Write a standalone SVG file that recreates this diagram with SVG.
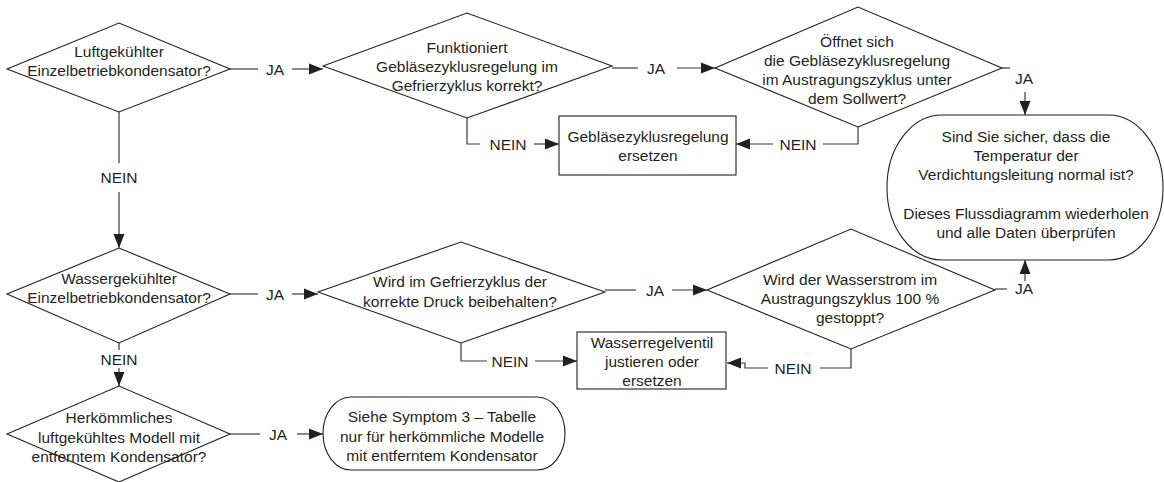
<svg xmlns="http://www.w3.org/2000/svg" width="1164" height="482" viewBox="0 0 1164 482">
<defs>
<style>
.shape{fill:#fff;stroke:#231f20;stroke-width:1.1}
.conn{fill:none;stroke:#3a3a3a;stroke-width:1.2}
text{font-family:"Liberation Sans",Arial,Helvetica,sans-serif;font-size:15.5px;fill:#231f20;text-anchor:middle}
</style>
<marker id="ah" markerUnits="userSpaceOnUse" markerWidth="15" markerHeight="12" refX="14" refY="6" orient="auto">
<path d="M0,0.5 L14,6 L0,11.5 z" fill="#231f20"/>
</marker>
</defs>
<rect width="1164" height="482" fill="#fff"/>

<g id="connectors">
<line class="conn" x1="230" y1="69" x2="258" y2="69"/>
<line class="conn" x1="292" y1="69" x2="323" y2="69" marker-end="url(#ah)"/>
<line class="conn" x1="612" y1="68" x2="638" y2="68"/>
<line class="conn" x1="677" y1="68" x2="715" y2="68" marker-end="url(#ah)"/>
<line class="conn" x1="1002" y1="68" x2="1010" y2="68"/>
<line class="conn" x1="1025" y1="92" x2="1025" y2="115" marker-end="url(#ah)"/>
<polyline class="conn" points="467,118 467,144 480,144"/>
<line class="conn" x1="534" y1="144" x2="559" y2="144" marker-end="url(#ah)"/>
<polyline class="conn" points="858,127 858,144 823,144"/>
<line class="conn" x1="773" y1="144" x2="736" y2="144" marker-end="url(#ah)"/>
<line class="conn" x1="119" y1="112" x2="119" y2="163"/>
<line class="conn" x1="119" y1="192" x2="119" y2="248" marker-end="url(#ah)"/>
<line class="conn" x1="230" y1="294" x2="258" y2="294"/>
<line class="conn" x1="292" y1="294" x2="318" y2="294" marker-end="url(#ah)"/>
<line class="conn" x1="605" y1="290" x2="636" y2="290"/>
<line class="conn" x1="672" y1="290" x2="707" y2="290" marker-end="url(#ah)"/>
<line class="conn" x1="995" y1="289" x2="1007" y2="289"/>
<line class="conn" x1="1025" y1="281" x2="1025" y2="260" marker-end="url(#ah)"/>
<polyline class="conn" points="461,343 461,361 487,361"/>
<line class="conn" x1="535" y1="361" x2="577" y2="361" marker-end="url(#ah)"/>
<polyline class="conn" points="851,349 851,368 820,368"/>
<polyline class="conn" points="768,368 745,368 745,363 727,363" marker-end="url(#ah)"/>
<line class="conn" x1="119" y1="343" x2="119" y2="350"/>
<line class="conn" x1="119" y1="368" x2="119" y2="386" marker-end="url(#ah)"/>
<line class="conn" x1="230" y1="434" x2="260" y2="434"/>
<line class="conn" x1="297" y1="434" x2="323" y2="434" marker-end="url(#ah)"/>
<text x="275" y="74.5">JA</text>
<text x="656" y="73.5">JA</text>
<text x="1024" y="83.5">JA</text>
<text x="508" y="149.5">NEIN</text>
<text x="798" y="149.5">NEIN</text>
<text x="119" y="182.5">NEIN</text>
<text x="275" y="299.5">JA</text>
<text x="655" y="295.5">JA</text>
<text x="1024" y="293.5">JA</text>
<text x="510" y="366.5">NEIN</text>
<text x="793" y="373.5">NEIN</text>
<text x="119" y="364.5">NEIN</text>
<text x="278" y="439.5">JA</text>
</g>

<g id="d1">
<polygon class="shape" points="7,69 119,23 230,69 119,112"/>
<text x="119" y="57">Luftgekühlter</text>
<text x="119" y="76">Einzelbetriebkondensator?</text>
</g>
<g id="d2">
<polygon class="shape" points="323,66 467,13 612,66 467,118"/>
<text x="467" y="53">Funktioniert</text>
<text x="467" y="72">Gebläsezyklusregelung im</text>
<text x="467" y="91">Gefrierzyklus korrekt?</text>
</g>
<g id="d3">
<polygon class="shape" points="715,68 858,7 1002,68 858,127"/>
<text x="857" y="47">Öffnet sich</text>
<text x="857" y="66">die Gebläsezyklusregelung</text>
<text x="857" y="85">im Austragungszyklus unter</text>
<text x="857" y="104">dem Sollwert?</text>
</g>
<g id="box1">
<rect class="shape" x="559" y="116" width="177" height="59"/>
<text x="648" y="142">Gebläsezyklusregelung</text>
<text x="648" y="161">ersetzen</text>
</g>
<g id="term1">
<rect class="shape" x="887" y="115" width="276" height="145" rx="55" ry="72"/>
<text x="1026" y="142">Sind Sie sicher, dass die</text>
<text x="1026" y="161">Temperatur der</text>
<text x="1026" y="180">Verdichtungsleitung normal ist?</text>
<text x="1026" y="219">Dieses Flussdiagramm wiederholen</text>
<text x="1026" y="238">und alle Daten überprüfen</text>
</g>
<g id="d4">
<polygon class="shape" points="7,294 119,248 230,294 119,343"/>
<text x="119" y="284">Wassergekühlter</text>
<text x="119" y="303">Einzelbetriebkondensator?</text>
</g>
<g id="d5">
<polygon class="shape" points="318,292 461,242 605,292 461,343"/>
<text x="460" y="287">Wird im Gefrierzyklus der</text>
<text x="460" y="307">korrekte Druck beibehalten?</text>
</g>
<g id="d6">
<polygon class="shape" points="707,290 851,229 995,290 851,349"/>
<text x="850" y="285">Wird der Wasserstrom im</text>
<text x="850" y="304">Austragungszyklus 100 %</text>
<text x="850" y="323">gestoppt?</text>
</g>
<g id="box2">
<rect class="shape" x="577" y="332" width="149" height="57"/>
<text x="652" y="348">Wasserregelventil</text>
<text x="652" y="367">justieren oder</text>
<text x="652" y="386">ersetzen</text>
</g>
<g id="d7">
<polygon class="shape" points="7,434 119,386 230,434 119,482"/>
<text x="119" y="423">Herkömmliches</text>
<text x="119" y="442.5">luftgekühltes Modell mit</text>
<text x="119" y="462">entferntem Kondensator?</text>
</g>
<g id="term2">
<rect class="shape" x="323" y="397" width="242" height="73" rx="28" ry="36.5"/>
<text x="442" y="422">Siehe Symptom 3 – Tabelle</text>
<text x="442" y="442">nur für herkömmliche Modelle</text>
<text x="442" y="461">mit entferntem Kondensator</text>
</g>
</svg>
